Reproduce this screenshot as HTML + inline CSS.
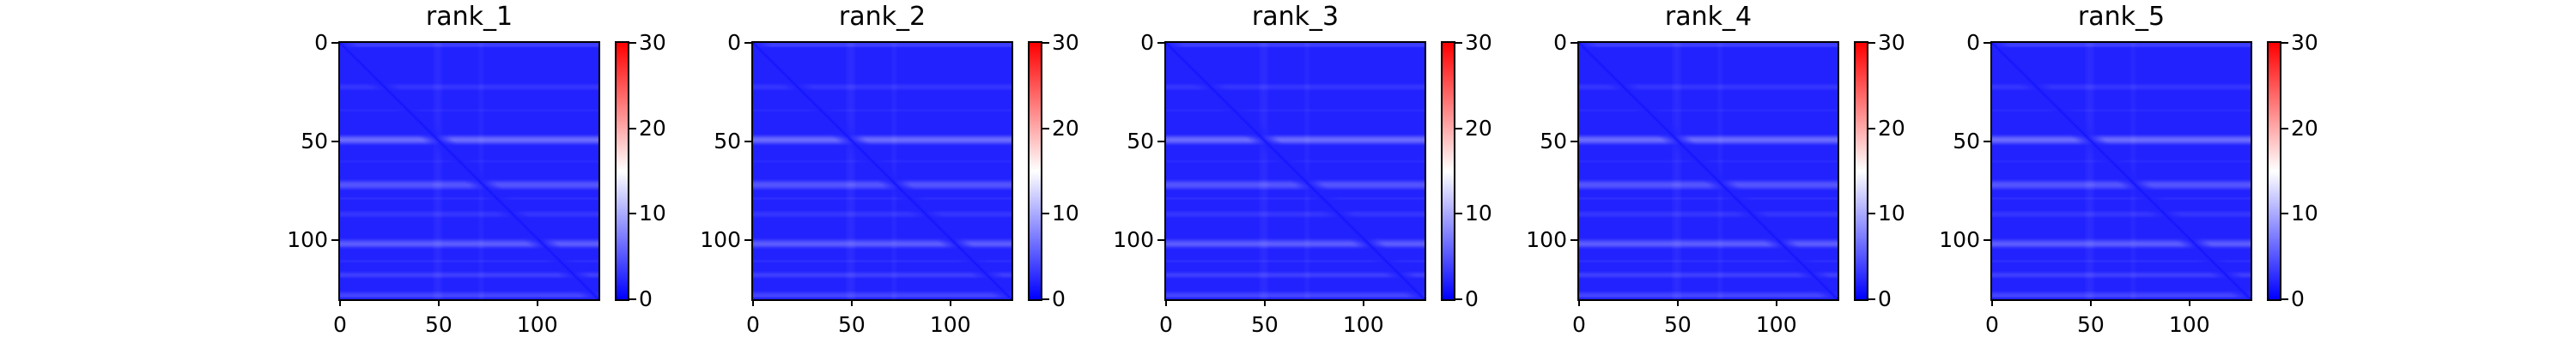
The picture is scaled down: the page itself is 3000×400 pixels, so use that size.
<!DOCTYPE html>
<html><head><meta charset="utf-8">
<style>
html,body{margin:0;padding:0;background:#fff;width:3000px;height:400px;overflow:hidden;font-family:"DejaVu Sans","Liberation Sans",sans-serif;}
#root{position:relative;width:3000px;height:400px;}
.panel{position:absolute;top:0;width:481px;height:400px;}
.title{position:absolute;top:2px;font-size:30px;color:#000;text-align:center;}
.ax{position:absolute;top:48px;width:301px;height:299px;border:2px solid #000;}
.ax canvas{width:301px;height:299px;display:block;}
.cb{position:absolute;top:48px;width:13px;height:299px;border:2px solid #000;background:linear-gradient(to top,#0000ff,#ffffff 50%,#ff0000);}
.tk{position:absolute;background:#000;}
.lbl{position:absolute;font-size:25px;color:#000;line-height:25px;}
</style></head><body>
<div id="root"></div>
<script>
// ---- data ----
const panelTitles = ["rank_1","rank_2","rank_3","rank_4","rank_5"];
const N = 131;
const axisTicks = [0, 50, 100];
const cbTicks = [0, 10, 20, 30];
const cbMax = 30;
const baseValue = 2.0;
const diagValue = 1.0;
// row band intensities (row index, added value)
const bandRows = [0, 1, 21, 22, 23, 34, 47, 48, 49, 50, 51, 60, 70, 71, 72, 73, 74, 79, 86, 87, 88, 100, 101, 102, 103, 104, 111, 117, 118, 119, 127, 128, 129];
const bandRowVals = [1.5, 1.8, 0.8, 1.2, 0.8, 0.6, 1.5, 3.5, 4.5, 3.5, 1.5, 0.6, 1.2, 2.5, 3.2, 2.5, 1.2, 0.8, 0.8, 1.2, 0.8, 1.0, 2.5, 3.5, 3.0, 1.2, 0.8, 1.0, 1.8, 1.2, 1.0, 1.8, 2.2];
// column band intensities
const bandCols = [47, 48, 49, 50, 51, 70, 71, 72];
const bandColVals = [0.5, 0.9, 1.1, 0.9, 0.5, 0.5, 0.8, 0.5];

const left0 = 394, step = 481;
const root = document.getElementById('root');

function colorOf(v){
  const t = Math.max(0, Math.min(1, v / cbMax));
  let r,g,b;
  if (t < 0.5){ const s = t/0.5; r = Math.round(255*s); g = r; b = 255; }
  else { const s = (t-0.5)/0.5; r = 255; g = Math.round(255*(1-s)); b = g; }
  return [r,g,b];
}
function buildMatrix(){
  const rowAdd = new Array(N).fill(0), colAdd = new Array(N).fill(0);
  bandRows.forEach((r,k)=>{ rowAdd[r] += bandRowVals[k]; });
  bandCols.forEach((c,k)=>{ colAdd[c] += bandColVals[k]; });
  const m = [];
  for (let i=0;i<N;i++){ const row=[]; for (let j=0;j<N;j++){
    const d = Math.abs(i-j);
    const fade = Math.min(1, d/8);
    let v = baseValue + (rowAdd[i] + colAdd[j]*0.6) * fade;
    if (d===0) v = diagValue;
    row.push(v);
  } m.push(row); }
  return m;
}
const matrix = buildMatrix();
const xScale = v => (v + 0.5) / N * 301;

panelTitles.forEach((title, p) => {
  const L = left0 + p*step;
  const panel = document.createElement('div');
  panel.className = 'panel';
  
  
  panel.style.left = (L - 60) + 'px';
  root.appendChild(panel);
  const off = 60;

  const t = document.createElement('div');
  t.className = 'title'; t.textContent = title;
  
  
  t.style.left = (off) + 'px'; t.style.width = '305px';
  panel.appendChild(t);

  const ax = document.createElement('div');
  ax.className = 'ax'; ax.style.left = (off) + 'px';
  
  
  const cv = document.createElement('canvas');
  cv.width = N; cv.height = N;
  
  
  const ctx = cv.getContext('2d');
  const img = ctx.createImageData(N, N);
  for (let i=0;i<N;i++) for (let j=0;j<N;j++){
    const c = colorOf(matrix[i][j]); const k = (i*N+j)*4;
    img.data[k]=c[0]; img.data[k+1]=c[1]; img.data[k+2]=c[2]; img.data[k+3]=255;
  }
  ctx.putImageData(img, 0, 0);
  ax.appendChild(cv);
  panel.appendChild(ax);

  axisTicks.forEach(v => {
    const px = off + 2 + xScale(v) - 0.5 * 301 / N;
    const tx = document.createElement('div'); tx.className='tk';
    
    
    tx.style.left = (px-1)+'px'; tx.style.top='349px'; tx.style.width='2px'; tx.style.height='8px';
    panel.appendChild(tx);
    const lx = document.createElement('div'); lx.className='lbl'; lx.textContent = v;
    
    
    lx.style.left = (px-40)+'px'; lx.style.width='80px'; lx.style.textAlign='center'; lx.style.top='366px';
    panel.appendChild(lx);
    const py = 48 + 2 + xScale(v) - 0.5 * 299 / N;
    const ty = document.createElement('div'); ty.className='tk';
    
    
    ty.style.left=(off-8)+'px'; ty.style.top=(py-1)+'px'; ty.style.width='8px'; ty.style.height='2px';
    panel.appendChild(ty);
    const ly = document.createElement('div'); ly.className='lbl'; ly.textContent = v;
    
    
    ly.style.left=(off-90)+'px'; ly.style.width='78px'; ly.style.textAlign='right'; ly.style.top=(py-13)+'px';
    panel.appendChild(ly);
  });

  const cbL = off + 322;
  const cb = document.createElement('div'); cb.className='cb'; cb.style.left = cbL+'px';
  
  
  panel.appendChild(cb);
  cbTicks.forEach(v => {
    const py = 48 + 2 + 299 * (1 - v/cbMax);
    const tk = document.createElement('div'); tk.className='tk';
    
    
    tk.style.left=(cbL+17)+'px'; tk.style.top=(py-1)+'px'; tk.style.width='8px'; tk.style.height='2px';
    panel.appendChild(tk);
    const lb = document.createElement('div'); lb.className='lbl'; lb.textContent = v;
    
    
    lb.style.left=(cbL+28)+'px'; lb.style.top=(py-13)+'px';
    panel.appendChild(lb);
  });
});
</script>
</body></html>
